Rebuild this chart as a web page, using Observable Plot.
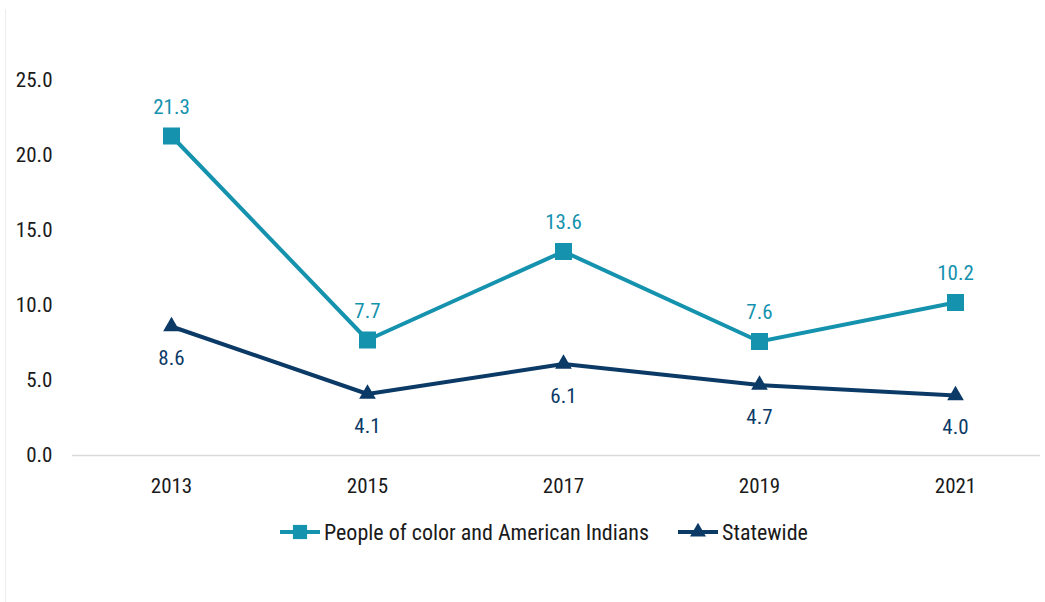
<!DOCTYPE html>
<html>
<head>
<meta charset="utf-8">
<script src="https://cdn.jsdelivr.net/npm/d3@7"></script>
<script src="https://cdn.jsdelivr.net/npm/@observablehq/plot@0.6"></script>
<style>
  html, body { margin: 0; padding: 0; background: #fff; }
  body { width: 1045px; height: 602px; overflow: hidden; position: relative; font-family: "Roboto Condensed", "Liberation Sans Narrow", Roboto, sans-serif; }
  #edge { position: absolute; left: 5px; top: 9px; bottom: 0; border-left: 1px solid #ececec; z-index: 2; }
  #chart { position: absolute; left: 0; top: 0; }
  #legend { position: absolute; left: 280px; top: 518px; height: 28px; display: flex; align-items: center; font-size: 22px; color: #1a1a1a; white-space: nowrap; }
  .item { display: flex; align-items: center; }
  .item svg { margin-right: 4px; }
</style>
</head>
<body>
<div id="edge"></div>
<div id="chart"></div>
<div id="legend"></div>
<script>
const years = ["2013", "2015", "2017", "2019", "2021"];
const pocValues = [21.3, 7.7, 13.6, 7.6, 10.2];
const stateValues = [8.6, 4.1, 6.1, 4.7, 4.0];
const seriesNames = ["People of color and American Indians", "Statewide"];
const seriesColors = ["#1492ae", "#0c3a66"];
const yTicks = [0, 5, 10, 15, 20, 25];

const poc = years.map((y, i) => ({year: y, value: pocValues[i]}));
const state = years.map((y, i) => ({year: y, value: stateValues[i]}));

const font = "'Roboto Condensed', 'Liberation Sans Narrow', Roboto, sans-serif";

const chart = Plot.plot({
  width: 1045,
  height: 500,
  marginTop: 80,
  marginBottom: 45,
  marginLeft: 72,
  marginRight: 5,
  style: {fontFamily: font, fontSize: "21px", color: "#1a1a1a", background: "transparent"},
  x: {type: "point", domain: years, range: [170, 956], padding: 0, label: null, tickSize: 0, tickPadding: 23},
  y: {domain: [0, 25], ticks: yTicks, tickFormat: d => d.toFixed(1), label: null, tickSize: 0, tickPadding: 20},
  marks: [
    Plot.ruleY([0], {stroke: "#d9d9d9", strokeWidth: 1.5}),
    Plot.line(poc, {x: "year", y: "value", stroke: seriesColors[0], strokeWidth: 4}),
    Plot.line(state, {x: "year", y: "value", stroke: seriesColors[1], strokeWidth: 4}),
    Plot.dot(poc, {x: "year", y: "value", symbol: "square", r: 9.6, fill: seriesColors[0], stroke: "none"}),
    Plot.dot(state, {x: "year", y: "value", symbol: "triangle", r: 6.2, fill: seriesColors[1], stroke: "none"}),
    Plot.text(poc, {x: "year", y: "value", text: d => d.value.toFixed(1), dy: -29, fill: seriesColors[0], fontSize: 21}),
    Plot.text(state, {x: "year", y: "value", text: d => d.value.toFixed(1), dy: 32, fill: seriesColors[1], fontSize: 21})
  ]
});
document.getElementById("chart").appendChild(chart);

const legend = document.getElementById("legend");
const symbols = [d3.symbolSquare, d3.symbolTriangle];
const sizes = [200, 110];
seriesNames.forEach((name, i) => {
  const item = document.createElement("div");
  item.className = "item";
  const svg = d3.create("svg").attr("width", 40).attr("height", 20);
  svg.append("line").attr("x1", 0).attr("x2", 40).attr("y1", 10).attr("y2", 10)
    .attr("stroke", seriesColors[i]).attr("stroke-width", 4);
  svg.append("path").attr("d", d3.symbol(symbols[i], sizes[i])())
    .attr("transform", "translate(20,10)").attr("fill", seriesColors[i]);
  item.appendChild(svg.node());
  const span = document.createElement("span");
  span.textContent = name;
  item.appendChild(span);
  legend.appendChild(item);
});
const items = legend.querySelectorAll(".item");
items[1].style.marginLeft = "29px";
</script>
</body>
</html>
